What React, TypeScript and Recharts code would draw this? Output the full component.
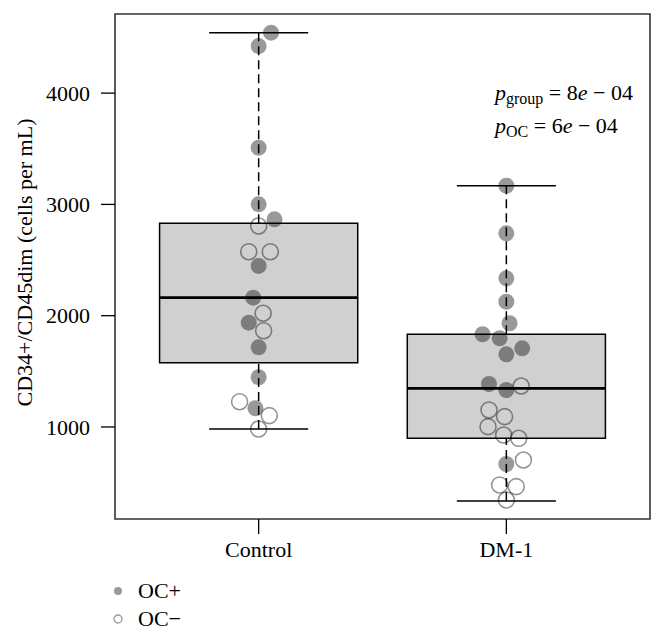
import {
  Customized,
  Legend,
  ReferenceArea,
  ReferenceLine,
  Scatter,
  ScatterChart,
  XAxis,
  YAxis,
} from 'recharts'

const FONT = '"Liberation Serif", "Times New Roman", serif'

const groups = ['Control', 'DM-1']
const yTicks = [1000, 2000, 3000, 4000]

// box statistics per group (Control, DM-1)
const lowerWhisker = [982, 335]
const q1 = [1578, 898]
const median = [2162, 1347]
const q3 = [2830, 1833]
const upperWhisker = [4543, 3168]

// OC+ (filled) values and their horizontal jitter
const controlPos = [4543, 4423, 3510, 3001, 2866, 2447, 2162, 1937, 1716, 1447, 1168]
const controlPosJitter = [0.05, 0, 0, 0, 0.064, 0, -0.022, -0.04, 0, 0, -0.013]
const dmPos = [3168, 2740, 2336, 2126, 1932, 1833, 1797, 1707, 1653, 1386, 1332, 667]
const dmPosJitter = [0, 0, 0, 0, 0.013, -0.096, -0.027, 0.064, 0, -0.07, 0, 0]

// OC− (open) values and their horizontal jitter
const controlNeg = [2806, 2575, 2575, 2022, 1865, 1227, 1102, 982]
const controlNegJitter = [0, -0.04, 0.047, 0.018, 0.02, -0.077, 0.043, 0]
const dmNeg = [1368, 1153, 1093, 1003, 928, 898, 703, 479, 464, 344]
const dmNegJitter = [0.06, -0.07, -0.007, -0.074, -0.011, 0.05, 0.069, -0.027, 0.04, 0]

type Pt = { x: number; y: number }

const toPoints = (group: number, values: number[], jitter: number[]): Pt[] =>
  values.map((v, i) => ({ x: group + jitter[i], y: v }))

const ocPos = [...toPoints(1, controlPos, controlPosJitter), ...toPoints(2, dmPos, dmPosJitter)]
const ocNeg = [...toPoints(1, controlNeg, controlNegJitter), ...toPoints(2, dmNeg, dmNegJitter)]

const xDomain: [number, number] = [0.42, 2.58]
const yDomain: [number, number] = [173, 4711]

const FilledDot = (props: any) => (
  <circle cx={props.cx} cy={props.cy} r={8} fill="#000" fillOpacity={0.4} />
)

const OpenDot = (props: any) => (
  <circle
    cx={props.cx}
    cy={props.cy}
    r={8}
    fill="none"
    stroke="#000"
    strokeOpacity={0.42}
    strokeWidth={1.6}
  />
)

function LegendContent({ payload }: any) {
  return (
    <div style={{ height: 56, paddingLeft: 105, fontFamily: FONT, fontSize: 22, color: '#000', boxSizing: 'border-box' }}>
      <div style={{ position: 'relative', top: 3 }}>
        {(payload ?? []).map((entry: any) => {
          const open = entry.value === 'OC−'
          return (
            <div key={entry.value} style={{ height: 28, display: 'flex', alignItems: 'center' }}>
              <svg width={10} height={10} style={{ marginRight: 15 }}>
                <circle
                  cx={5}
                  cy={5}
                  r={4}
                  fill={open ? 'none' : '#999'}
                  stroke={open ? '#999' : 'none'}
                  strokeWidth={1.3}
                />
              </svg>
              <span style={{ lineHeight: '28px' }}>{entry.value}</span>
            </div>
          )
        })}
      </div>
    </div>
  )
}

function PValues() {
  return (
    <g fontFamily={FONT} fontSize={22} fill="#000">
      <text x={487} y={92}>
        <tspan fontStyle="italic">p</tspan>
        <tspan fontSize={16} dy={4}>group</tspan>
        <tspan dy={-4}> = 8</tspan>
        <tspan fontStyle="italic">e</tspan>
        <tspan> − 04</tspan>
      </text>
      <text x={487} y={125}>
        <tspan fontStyle="italic">p</tspan>
        <tspan fontSize={16} dy={4}>OC</tspan>
        <tspan dy={-4}> = 6</tspan>
        <tspan fontStyle="italic">e</tspan>
        <tspan> − 04</tspan>
      </text>
    </g>
  )
}

export default function App() {
  const tickStyle = { fill: '#000', fontSize: 22, fontFamily: FONT }
  return (
    <div style={{ width: 657, height: 622, fontFamily: FONT }}>
      <ScatterChart
        width={657}
        height={622}
        margin={{ top: 6, right: 15, left: 0, bottom: 0 }}
      >
        <XAxis
          type="number"
          dataKey="x"
          domain={xDomain}
          allowDataOverflow
          ticks={[1, 2]}
          tickFormatter={(v: number) => groups[v - 1]}
          axisLine={false}
          tickLine={{ stroke: '#000', strokeWidth: 1.3 }}
          tickSize={15}
          tickMargin={7}
          height={55}
          tick={tickStyle}
        />
        <YAxis
          type="number"
          dataKey="y"
          domain={yDomain}
          allowDataOverflow
          ticks={yTicks}
          axisLine={false}
          tickLine={{ stroke: '#000', strokeWidth: 1.3 }}
          tickSize={14}
          tickMargin={11}
          width={107}
          tick={tickStyle}
          label={{
            value: 'CD34+/CD45dim (cells per mL)',
            angle: -90,
            position: 'center',
            dx: -37,
            dy: -4,
            style: { fill: '#000', fontSize: 22, fontFamily: FONT },
          }}
        />
        {groups.map((g, i) => {
          const x = i + 1
          return [
            <ReferenceLine
              key={`uw-${g}`}
              segment={[{ x, y: q3[i] }, { x, y: upperWhisker[i] }]}
              stroke="#000"
              strokeWidth={1.5}
              strokeDasharray="9 5"
            />,
            <ReferenceLine
              key={`lw-${g}`}
              segment={[{ x, y: lowerWhisker[i] }, { x, y: q1[i] }]}
              stroke="#000"
              strokeWidth={1.5}
              strokeDasharray="9 5"
            />,
            <ReferenceLine
              key={`uc-${g}`}
              segment={[{ x: x - 0.2, y: upperWhisker[i] }, { x: x + 0.2, y: upperWhisker[i] }]}
              stroke="#000"
              strokeWidth={1.5}
            />,
            <ReferenceLine
              key={`lc-${g}`}
              segment={[{ x: x - 0.2, y: lowerWhisker[i] }, { x: x + 0.2, y: lowerWhisker[i] }]}
              stroke="#000"
              strokeWidth={1.5}
            />,
            <ReferenceArea
              key={`box-${g}`}
              x1={x - 0.4}
              x2={x + 0.4}
              y1={q1[i]}
              y2={q3[i]}
              fill="#d0d0d0"
              fillOpacity={1}
              stroke="#000"
              strokeWidth={1.5}
            />,
            <ReferenceLine
              key={`med-${g}`}
              segment={[{ x: x - 0.4, y: median[i] }, { x: x + 0.4, y: median[i] }]}
              stroke="#000"
              strokeWidth={2.6}
            />,
          ]
        })}
        <ReferenceArea
          x1={xDomain[0]}
          x2={xDomain[1]}
          y1={yDomain[0]}
          y2={yDomain[1]}
          fill="none"
          stroke="#333"
          strokeWidth={1.6}
          ifOverflow="visible"
        />
        <Scatter
          name="OC+"
          data={ocPos}
          fill="#999"
          shape={FilledDot}
          isAnimationActive={false}
        />
        <Scatter
          name="OC−"
          data={ocNeg}
          fill="none"
          stroke="#999"
          shape={OpenDot}
          isAnimationActive={false}
        />
        <Legend
          layout="horizontal"
          verticalAlign="bottom"
          align="left"
          content={LegendContent}
        />
        <Customized component={PValues} />
      </ScatterChart>
    </div>
  )
}
